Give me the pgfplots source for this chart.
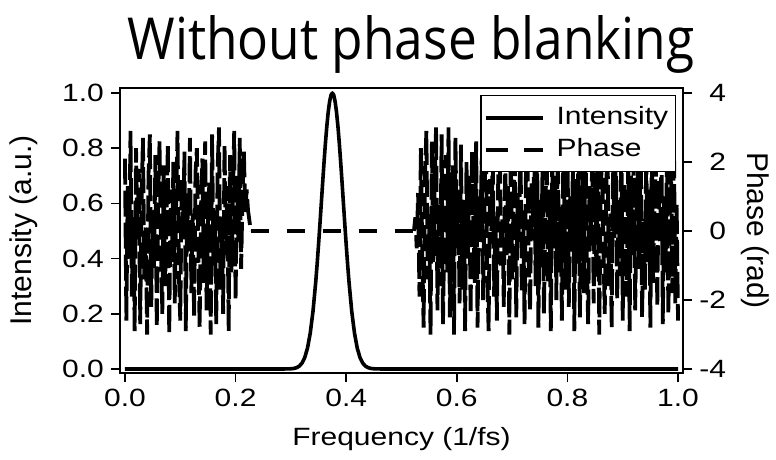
\documentclass[border=0pt]{standalone}
\usepackage{fontspec}
\setmainfont{Liberation Sans}[FakeStretch=1.2]
\newfontfamily\plainsans{Liberation Sans}
\newfontfamily\titlefont{Open Sans}
\usepackage{pgfplots}
\pgfplotsset{compat=1.18}
\begin{document}
\begin{tikzpicture}
\pgfplotsset{
  every axis/.append style={
    scale only axis, width=281.5pt, height=142.5pt,
    xmin=-0.009, xmax=1.009,
    axis line style={line width=0.75pt},
    tick style={line width=0.75pt, black},
    major tick length=4.5pt,
    tick align=outside,
    /pgf/number format/assume math mode=true,
    tick label style={font=\fontsize{12.5}{15}\selectfont},
  },
}
\begin{axis}[
  ymin=-0.0145, ymax=1.018,
  xtick={0,0.2,0.4,0.6,0.8,1.0},
  ytick={0,0.2,0.4,0.6,0.8,1.0},
  xtick pos=bottom, ytick pos=left,
  xticklabel style={/pgf/number format/.cd, fixed, fixed zerofill, precision=1},
  yticklabel style={/pgf/number format/.cd, fixed, fixed zerofill, precision=1},
  xlabel={Frequency (1/fs)},
  xlabel style={font=\fontsize{12.5}{15}\selectfont, at={(axis description cs:0.5,0)}, anchor=base, yshift=-36pt},
  ylabel={Intensity (a.u.)},
  ylabel style={font=\plainsans\fontsize{15}{18}\selectfont, at={(axis description cs:-0.1705,0.5)}, anchor=center},
]
\addplot[black, line width=1.8pt, line join=round] coordinates {
(0,0) (0.28,0) (0.295,0.0003) (0.3,0.0008) (0.305,0.0019) (0.31,0.0046) (0.315,0.0101)
(0.32,0.0211) (0.325,0.0412) (0.33,0.0755) (0.335,0.1299) (0.34,0.2096) (0.345,0.3173)
(0.3475,0.3812) (0.35,0.4506) (0.3525,0.5243) (0.355,0.6004) (0.3575,0.6767) (0.36,0.7505)
(0.3625,0.8193) (0.365,0.8802) (0.3675,0.9308) (0.37,0.9686) (0.3725,0.9921) (0.375,1)
(0.3775,0.9921) (0.38,0.9686) (0.3825,0.9308) (0.385,0.8802) (0.3875,0.8193) (0.39,0.7505)
(0.3925,0.6767) (0.395,0.6004) (0.3975,0.5243) (0.4,0.4506) (0.4025,0.3812) (0.405,0.3173)
(0.41,0.2096) (0.415,0.1299) (0.42,0.0755) (0.425,0.0412) (0.43,0.0211) (0.435,0.0101)
(0.44,0.0046) (0.445,0.0019) (0.45,0.0008) (0.455,0.0003) (0.47,0) (1,0)
};
\end{axis}
\begin{axis}[
  ymin=-4.116, ymax=4.145,
  axis x line=none,
  axis y line*=right,
  ytick={-4,-2,0,2,4},
  ytick pos=right,
  yticklabel style={text width=13.5pt, align=right},
  ylabel={Phase (rad)},
  ylabel style={font=\plainsans\fontsize{15}{18}\selectfont, at={(axis description cs:1.1279,0.5)}, anchor=center, rotate=-180},
  legend style={at={(1,1)}, anchor=north east, xshift=-3.5pt, yshift=-3.5pt,
    draw=black, line width=0.75pt, fill=white,
    font=\fontsize{12.5}{15}\selectfont,
    inner xsep=1.5pt, inner ysep=4.5pt, row sep=3pt, column sep=4pt,
    nodes={inner xsep=2pt, inner ysep=0.7pt, text height=9pt, text depth=2.6pt}},
  legend cell align=left,
  legend image code/.code={\draw[#1] (0pt,0pt) -- (28.5pt,0pt);},
]
\addlegendimage{black, line width=1.8pt}
\addlegendentry{Intensity}
% phase, noisy part below 0.23 1/fs
\addplot[black, line width=1.9pt, dash pattern=on 13pt off 3pt, forget plot] coordinates {
(0.0000,2.1) (0.0025,-2.6) (0.0050,1.3) (0.0075,-0.8) (0.0100,2.9) (0.0125,-1.9) (0.0150,0.4)
(0.0175,-2.9) (0.0200,2.4) (0.0225,-0.2) (0.0250,1.8) (0.0275,-2.7) (0.0300,0.9) (0.0325,2.7)
(0.0350,-1.4) (0.0375,0.1) (0.0400,-3.0) (0.0425,1.6) (0.0450,2.8) (0.0475,-2.2) (0.0500,0.6)
(0.0525,-1.1) (0.0550,2.2) (0.0575,-2.8) (0.0600,1.0) (0.0625,2.6) (0.0650,-0.5) (0.0675,-2.4)
(0.0700,1.9) (0.0725,-1.6) (0.0750,0.3) (0.0775,2.5) (0.0800,-3.0) (0.0825,1.2) (0.0850,-0.9)
(0.0875,2.0) (0.0900,-2.1) (0.0925,0.8) (0.0950,2.9) (0.0975,-1.3) (0.1000,-2.6) (0.1025,1.5)
(0.1050,0.0) (0.1075,2.3) (0.1100,-2.9) (0.1125,1.1) (0.1150,-0.6) (0.1175,2.7) (0.1200,-1.8)
(0.1225,0.5) (0.1250,-2.5) (0.1275,1.7) (0.1300,2.4) (0.1325,-0.3) (0.1350,-2.8) (0.1375,0.7)
(0.1400,2.1) (0.1425,-1.5) (0.1450,2.6) (0.1475,-2.3) (0.1500,0.2) (0.1525,1.4) (0.1550,-3.0)
(0.1575,2.8) (0.1600,-1.0) (0.1625,0.6) (0.1650,-2.7) (0.1675,1.8) (0.1700,3.0) (0.1725,-1.7)
(0.1750,0.4) (0.1775,-2.4) (0.1800,2.5) (0.1825,-0.7) (0.1850,1.3) (0.1875,-2.9) (0.1900,2.2)
(0.1925,-1.2) (0.1950,0.9) (0.1975,2.9) (0.2000,-2.0) (0.2025,1.6) (0.2050,-0.4) (0.2075,2.7)
(0.2100,-1.1) (0.2125,1.0) (0.2150,2.3) (0.2175,0.5) (0.2200,1.2) (0.2225,0.6) (0.2250,0.3)
(0.2275,0.0)
};
% phase, flat part
\addplot[black, line width=1.9pt, dash pattern=on 9pt off 9pt, forget plot] coordinates {
(0.2275,0.0) (0.5225,0.0)
};
% phase, noisy part above 0.52 1/fs
\addplot[black, line width=1.9pt, dash pattern=on 13pt off 3pt, forget plot] coordinates {
(0.5225,0.0) (0.5250,0.4) (0.5275,-0.5)
(0.5300,1.1) (0.5325,-1.9) (0.5350,2.4) (0.5375,-0.6) (0.5400,-2.8) (0.5425,1.7) (0.5450,2.9)
(0.5475,-1.4) (0.5500,0.3) (0.5525,-3.0) (0.5550,2.6) (0.5575,-0.9) (0.5600,1.4) (0.5625,3.0)
(0.5650,-2.3) (0.5675,0.8) (0.5700,-1.6) (0.5725,2.8) (0.5750,-2.7) (0.5775,0.1) (0.5800,2.2)
(0.5825,-1.2) (0.5850,3.0) (0.5875,-2.5) (0.5900,0.6) (0.5925,1.9) (0.5950,-3.0) (0.5975,2.7)
(0.6000,-0.4) (0.6025,1.2) (0.6050,-2.1) (0.6075,2.5) (0.6100,-1.7) (0.6125,0.9) (0.6150,-2.9)
(0.6175,2.0) (0.6200,-0.8) (0.6225,1.6) (0.6250,-2.4) (0.6275,2.3) (0.6300,0.2) (0.6325,-1.5)
(0.6350,2.6) (0.6375,-2.8) (0.6400,1.0) (0.6425,-0.2) (0.6450,2.1) (0.6475,-2.0) (0.6500,0.7)
(0.6525,2.7) (0.6550,-1.3) (0.6575,-2.9) (0.6600,1.5) (0.6625,0.0) (0.6650,2.4) (0.6675,-1.9)
(0.6700,0.5) (0.6725,-2.6) (0.6750,1.8) (0.6775,2.9) (0.6800,-1.0) (0.6825,0.4) (0.6850,-2.2)
(0.6875,2.2) (0.6900,-0.7) (0.6925,1.3) (0.6950,-3.0) (0.6975,2.6) (0.7000,-1.4) (0.7025,0.8)
(0.7050,2.0) (0.7075,-2.5) (0.7100,1.1) (0.7125,-0.3) (0.7150,2.8) (0.7175,-1.8) (0.7200,0.6)
(0.7225,-2.7) (0.7250,1.7) (0.7275,2.5) (0.7300,-0.9) (0.7325,-2.3) (0.7350,1.4) (0.7375,0.1)
(0.7400,2.3) (0.7425,-1.6) (0.7450,2.9) (0.7475,-2.8) (0.7500,0.9) (0.7525,-1.1) (0.7550,1.9)
(0.7575,-2.4) (0.7600,0.3) (0.7625,2.7) (0.7650,-1.5) (0.7675,1.2) (0.7700,-2.9) (0.7725,2.1)
(0.7750,-0.5) (0.7775,1.6) (0.7800,-2.0) (0.7825,2.6) (0.7850,-1.2) (0.7875,0.7) (0.7900,-2.6)
(0.7925,2.4) (0.7950,0.2) (0.7975,-1.7) (0.8000,2.8) (0.8025,-2.2) (0.8050,1.0) (0.8075,-0.6)
(0.8100,2.0) (0.8125,-2.9) (0.8150,1.5) (0.8175,-1.0) (0.8200,2.5) (0.8225,-2.5) (0.8250,0.4)
(0.8275,1.8) (0.8300,-1.8) (0.8325,2.9) (0.8350,-0.8) (0.8375,-2.7) (0.8400,1.3) (0.8425,0.0)
(0.8450,2.2) (0.8475,-2.1) (0.8500,1.7) (0.8525,-1.4) (0.8550,2.7) (0.8575,-3.0) (0.8600,0.8)
(0.8625,2.3) (0.8650,-0.4) (0.8675,-2.4) (0.8700,1.1) (0.8725,2.6) (0.8750,-1.6) (0.8775,0.5)
(0.8800,-2.8) (0.8825,1.9) (0.8850,-0.2) (0.8875,2.4) (0.8900,-2.0) (0.8925,0.9) (0.8950,-1.3)
(0.8975,2.8) (0.9000,-2.6) (0.9025,1.4) (0.9050,0.1) (0.9075,-1.9) (0.9100,2.1) (0.9125,-2.9)
(0.9150,1.6) (0.9175,-0.7) (0.9200,2.5) (0.9225,-2.3) (0.9250,0.6) (0.9275,1.8) (0.9300,-1.1)
(0.9325,2.9) (0.9350,-2.5) (0.9375,0.3) (0.9400,-1.7) (0.9425,2.2) (0.9450,-0.9) (0.9475,1.2)
(0.9500,-2.8) (0.9525,2.7) (0.9550,-1.5) (0.9575,0.7) (0.9600,2.0) (0.9625,-2.2) (0.9650,1.5)
(0.9675,-0.3) (0.9700,2.6) (0.9725,-2.7) (0.9750,1.0) (0.9775,-1.2) (0.9800,2.3) (0.9825,-2.4)
(0.9850,0.4) (0.9875,1.9) (0.9900,-1.8) (0.9925,2.8) (0.9950,-2.1) (0.9975,0.8) (1.0000,-2.6)
};
\addlegendimage{black, line width=1.8pt, dash pattern=on 11pt off 8pt}
\addlegendentry{Phase}
\end{axis}
\node[anchor=base, inner sep=0pt] at (145.5pt,156.5pt) {\resizebox{283.5pt}{22pt}{\titlefont Without phase blanking}};
\pgfresetboundingbox
\path[use as bounding box] (-60pt,-43.5pt) rectangle (328pt,186.5pt);
\end{tikzpicture}
\end{document}
